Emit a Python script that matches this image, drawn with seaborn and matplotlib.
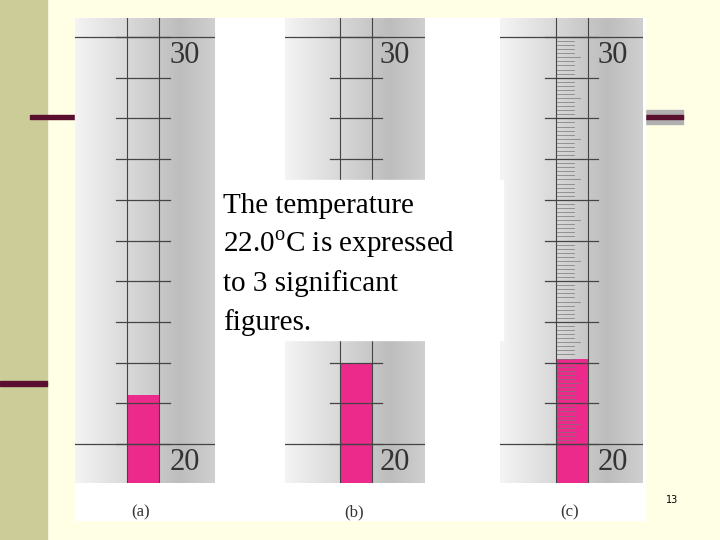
import numpy as np
import matplotlib
matplotlib.use("Agg")
import matplotlib.pyplot as plt
import seaborn as sns

labels = ["(a)", "(b)", "(c)"]
readings = [21.2, 22.0, 22.1]
tick_steps = [1.0, 1.0, 0.1]
scale_top, scale_bottom = "30", "20"
caption_lines = ["The temperature", "22.0$^{\\mathregular{o}}$C is expressed",
                 "to 3 significant", "figures."]
page_no = "13"

W, H = 720, 540
fig = plt.figure(figsize=(7.2, 5.4), dpi=100)
fig.patch.set_facecolor("#FFFFE6")
plt.rcParams["mathtext.fontset"] = "custom"
plt.rcParams["mathtext.rm"] = "Liberation Serif"

def rect(x0, y0, x1, y1):
    return [x0 / W, 1 - y1 / H, (x1 - x0) / W, (y1 - y0) / H]

def frect(x0, y0, x1, y1, color, z=0):
    fig.patches.append(plt.Rectangle((x0 / W, 1 - y1 / H), (x1 - x0) / W, (y1 - y0) / H,
                                     transform=fig.transFigure, color=color, zorder=z))

frect(0, 0, 47, 540, "#CCCC99")
frect(30, 115, 76, 119, "#5A0F2E")
frect(0, 381, 47, 386, "#5A0F2E")
frect(643, 110, 683, 124, "#B0B0B0")
frect(643, 115, 683, 119, "#5A0F2E")
frect(75, 18, 645, 520, "white", 1)

ymax = 30 + (37 - 18) / 40.7
ymin = 20 - (483 - 444) / 40.7
panels = [(75, 215, 127, 159, -1.7, 1.8, 116, 170),
          (285, 425, 340, 372, -1.775, 1.725, 330, 382),
          (500, 643, 556, 588, -1.8, 1.775, 545, 598)]
grad = np.linspace(0, 1, 200)
cmap = matplotlib.colors.LinearSegmentedColormap.from_list(
    "g", ["#f4f4f4", "#e2e2e2", "#d0d0d0", "#bdbdbd", "#cfcfcf"])
for i, (x0, x1, b0, b1, xl, xr, t0, t1) in enumerate(panels):
    ax = fig.add_axes(rect(x0, 18, x1, 483), zorder=2)
    ax.imshow(grad[None, :], aspect="auto", cmap=cmap, extent=(xl, xr, ymin, ymax), zorder=0)
    sns.barplot(x=[labels[i]], y=[readings[i]], color="#EC2A8C", width=0.8,
                saturation=1, ax=ax, zorder=2)
    ax.set_xlim(xl, xr)
    ax.set_ylim(ymin, ymax)
    ax.axis("off")
    px = (xr - xl) / (x1 - x0)
    tx0 = xl + (t0 - x0) * px
    tx1 = xl + (t1 - x0) * px
    bl = xl + (b0 - x0) * px
    br = xl + (b1 - x0) * px
    step = tick_steps[i]
    vals = np.round(np.arange(20, 30 + step / 2, step), 2)
    for v in vals:
        if abs(v - round(v)) < 1e-6:
            ax.plot([tx0, tx1], [v, v], color="#444444", lw=0.9, zorder=3)
        else:
            short = abs(v * 10 % 10 - 5) < 1e-6
            ax.plot([bl, bl + (br - bl) * (0.75 if short else 0.55)], [v, v],
                    color="#777777", lw=0.5, zorder=3)
    ax.plot([xl, xr], [30, 30], color="#444444", lw=0.9, zorder=3)
    ax.plot([xl, xr], [20, 20], color="#444444", lw=0.9, zorder=3)
    ax.axvline(bl, color="#444444", lw=0.8, zorder=3)
    ax.axvline(br, color="#444444", lw=0.8, zorder=3)
    lx = xl + (x1 - 30 - x0) * px
    ax.text(lx, 30 - 0.45, scale_top, fontsize=22, family="Liberation Serif",
            ha="center", va="center", color="#333333", zorder=4)
    ax.text(lx, 20 - 0.45, scale_bottom, fontsize=22, family="Liberation Serif",
            ha="center", va="center", color="#333333", zorder=4)
    fig.text(((b0 + b1) / 2 - 2) / W, 1 - 512 / H, labels[i], fontsize=12,
             family="Liberation Serif", ha="center", va="center", color="#333333", zorder=5)

frect(218, 180, 503, 340, "white", 10)
for k, line in enumerate(caption_lines):
    fig.text(223 / W, 1 - (213 + 39 * k) / H, line, fontsize=21, family="Liberation Serif",
             ha="left", va="baseline", zorder=11)
fig.text(672 / W, 1 - 500 / H, page_no, fontsize=7, ha="center", va="center", zorder=11)

fig.savefig("out.png", dpi=100)
